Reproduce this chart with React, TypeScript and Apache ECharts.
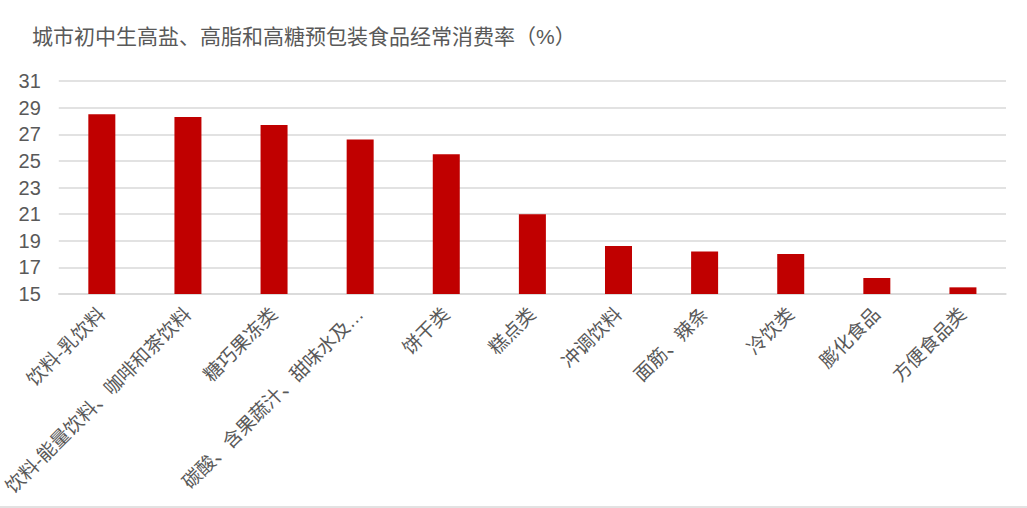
import React, { useEffect, useRef } from "react";
import * as echarts from "echarts";
import type { EChartsType } from "echarts";

const titleText = "城市初中生高盐、高脂和高糖预包装食品经常消费率（%）";

const categories = [
  "饮料-乳饮料",
  "饮料-能量饮料、咖啡和茶饮料",
  "糖巧果冻类",
  "碳酸、含果蔬汁、甜味水及…",
  "饼干类",
  "糕点类",
  "冲调饮料",
  "面筋、辣条",
  "冷饮类",
  "膨化食品",
  "方便食品类",
];

const rates = [28.5, 28.3, 27.7, 26.6, 25.5, 21.0, 18.6, 18.2, 18.0, 16.2, 15.5];

const FONT = "'Liberation Sans', 'Noto Sans CJK SC', sans-serif";
const TEXT_COLOR = "#595959";

const App: React.FC = () => {
  const chartRef = useRef<HTMLDivElement>(null);

  useEffect(() => {
    document.body.style.margin = "0";
    if (chartRef.current) {
      const myChart: EChartsType = echarts.init(chartRef.current, undefined, {
        renderer: "svg",
      });

      const option = {
        animation: false,
        backgroundColor: "#ffffff",
        title: {
          text: titleText,
          left: 27,
          top: 21,
          textStyle: {
            fontFamily: FONT,
            fontSize: 21,
            fontWeight: "normal" as const,
            color: TEXT_COLOR,
          },
        },
        grid: { left: 58, right: 21, top: 81, bottom: 214 },
        xAxis: {
          type: "category" as const,
          data: categories,
          axisTick: { show: false },
          axisLine: { show: true, lineStyle: { color: "#d9d9d9", width: 1.5 } },
          axisLabel: {
            rotate: 45,
            interval: 0,
            margin: 17,
            fontFamily: FONT,
            fontSize: 19,
            color: TEXT_COLOR,
          },
        },
        yAxis: {
          type: "value" as const,
          min: 15,
          max: 31,
          interval: 2,
          axisLine: { show: false },
          axisTick: { show: false },
          splitLine: { lineStyle: { color: "#d9d9d9", width: 1.5 } },
          axisLabel: {
            margin: 18,
            fontFamily: FONT,
            fontSize: 20,
            color: TEXT_COLOR,
          },
        },
        series: [
          {
            type: "bar",
            data: rates,
            barWidth: 27,
            itemStyle: { color: "#c00000" },
          },
        ],
        graphic: [
          {
            type: "line",
            shape: { x1: 0, y1: 507, x2: 1027, y2: 507 },
            style: { stroke: "#d9d9d9", lineWidth: 1.5 },
          },
        ],
      };

      myChart.setOption(option);

      return () => {
        myChart.dispose();
      };
    }
  }, []);

  return <div ref={chartRef} style={{ width: "1027px", height: "508px" }}></div>;
};

export default App;
